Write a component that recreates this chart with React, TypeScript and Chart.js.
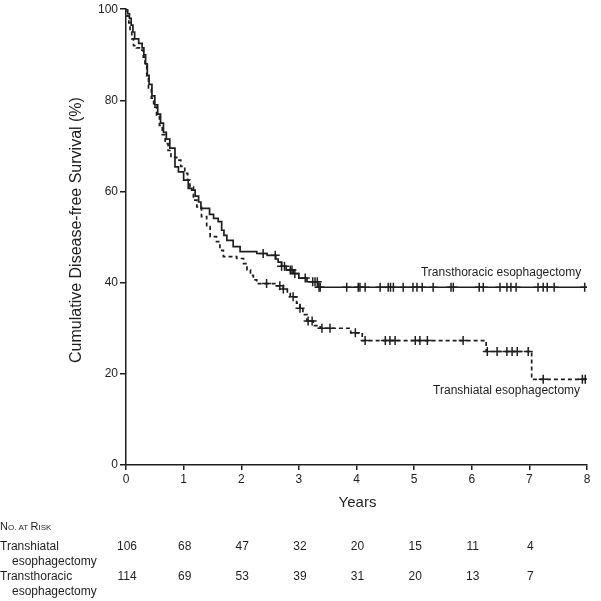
import React, { useEffect, useRef } from "react";
import { Chart, registerables } from "chart.js";

Chart.register(...registerables);

// ---- Data ----
const yearTicks = [0, 1, 2, 3, 4, 5, 6, 7, 8];
const riskYears = [0, 1, 2, 3, 4, 5, 6, 7];
const riskTranshiatal = [106, 68, 47, 32, 20, 15, 11, 4];
const riskTransthoracic = [114, 69, 53, 39, 31, 20, 13, 7];

// Transthoracic esophagectomy (solid) – step times (years) and survival (%)
const thorTimes = [
  0, 0.03, 0.06, 0.09, 0.12, 0.15, 0.22, 0.28, 0.31, 0.34, 0.37, 0.4, 0.45, 0.5,
  0.55, 0.6, 0.65, 0.7, 0.76, 0.85, 0.91, 1.0, 1.08, 1.14, 1.2, 1.26, 1.3, 1.45,
  1.52, 1.6, 1.66, 1.7, 1.75, 1.86, 1.98, 2.27, 2.45, 2.6, 2.64, 2.7, 2.78, 2.9,
  3.0, 3.14, 3.33, 8.0,
];
const thorSurv = [
  100, 99, 98, 96.5, 95, 93.5, 92.5, 91.5, 90, 88, 85.5, 83.5, 81, 79, 77, 75,
  73, 71.5, 69.5, 65.4, 64.3, 62.5, 60.7, 60.3, 59, 57.7, 56.3, 55, 54.1, 53.4,
  51.5, 50.4, 49.3, 47.9, 46.8, 46.4, 46.0, 45.2, 44.5, 43.6, 42.8, 42.0, 41.0,
  40.2, 39.0, 39.0,
];
const thorCensor = [
  2.38, 2.59, 2.7, 2.75, 2.85, 2.88, 2.93, 3.11, 3.24, 3.28, 3.32, 3.35, 3.37,
  3.83, 4.03, 4.06, 4.15, 4.41, 4.55, 4.59, 4.64, 4.81, 4.98, 5.05, 5.14, 5.33,
  5.64, 5.68, 6.13, 6.2, 6.49, 6.61, 6.68, 6.77, 7.15, 7.24, 7.31, 7.43, 7.96,
];

// Transhiatal esophagectomy (dashed)
const hiatTimes = [
  0, 0.02, 0.05, 0.07, 0.1, 0.13, 0.18, 0.25, 0.3, 0.33, 0.36, 0.39, 0.44, 0.48,
  0.53, 0.58, 0.63, 0.68, 0.73, 0.78, 0.88, 0.95, 1.02, 1.07, 1.11, 1.17, 1.23,
  1.31, 1.4, 1.46, 1.57, 1.63, 1.69, 1.92, 2.04, 2.1, 2.16, 2.21, 2.27, 2.62,
  2.73, 2.8, 2.85, 2.96, 3.02, 3.07, 3.14, 3.25, 3.37, 3.9, 4.1, 6.25, 7.04, 8.0,
];
const hiatSurv = [
  100, 98.5, 97, 95, 93.5, 92, 91.5, 91, 89.5, 87.5, 85, 82.5, 80.5, 78.5, 76.5,
  74.5, 72.5, 70.5, 69, 67.5, 66.9, 65.5, 64, 62.5, 61, 58.1, 56.6, 54.5, 52.3,
  50.1, 49.0, 47.1, 45.7, 45.3, 44.2, 42.8, 41.6, 40.6, 39.8, 39.3, 38.6, 37.6,
  36.9, 35.5, 34.4, 33.0, 31.6, 30.6, 30.0, 29.0, 27.3, 24.9, 18.8, 18.8,
];
const hiatCensor = [
  2.44, 2.67, 2.73, 2.9, 3.02, 3.16, 3.23, 3.4, 3.54, 3.98, 4.15, 4.5, 4.58,
  4.67, 5.02, 5.1, 5.23, 5.85, 6.27, 6.44, 6.61, 6.7, 6.79, 6.98, 7.24, 7.92,
  7.97,
];

const FONT = "'Liberation Sans', Arial, Helvetica, sans-serif";
const INK = "#1e1e1e";

function survAt(times: number[], surv: number[], t: number): number {
  let v = surv[0];
  for (let i = 0; i < times.length; i++) {
    if (times[i] <= t) v = surv[i];
  }
  return v;
}

const textPlugin = {
  id: "kmText",
  afterDraw(chart: any) {
    const ctx = chart.ctx as CanvasRenderingContext2D;
    const xs = chart.scales.x;
    const ys = chart.scales.y;
    ctx.save();
    ctx.fillStyle = INK;

    // Axis titles
    ctx.font = `15px ${FONT}`;
    ctx.textAlign = "center";
    ctx.textBaseline = "middle";
    ctx.fillText("Years", xs.getPixelForValue(4) + 1, 503);

    ctx.save();
    ctx.translate(77, 230);
    ctx.rotate(-Math.PI / 2);
    ctx.font = `16px ${FONT}`;
    ctx.fillText("Cumulative Disease-free Survival (%)", 0, 0);
    ctx.restore();

    // Curve labels
    ctx.font = `12px ${FONT}`;
    ctx.textAlign = "right";
    ctx.fillText("Transthoracic esophagectomy", xs.getPixelForValue(7.9), ys.getPixelForValue(42.3));
    ctx.fillText("Transhiatal esophagectomy", xs.getPixelForValue(7.88), ys.getPixelForValue(16.4));

    // No. at risk header (small caps)
    ctx.textAlign = "left";
    let x = 0;
    const yh = 527;
    const parts: [string, number][] = [
      ["N", 11],
      ["O. AT ", 8],
      ["R", 11],
      ["ISK", 8],
    ];
    for (const [s, sz] of parts) {
      ctx.font = `${sz}px ${FONT}`;
      ctx.fillText(s, x, yh + (sz < 10 ? 0.5 : 0));
      x += ctx.measureText(s).width;
    }

    // Row labels
    ctx.font = `12px ${FONT}`;
    ctx.fillText("Transhiatal", 0, 547);
    ctx.fillText("esophagectomy", 12, 562);
    ctx.fillText("Transthoracic", 0, 577);
    ctx.fillText("esophagectomy", 12, 592);

    // Numbers at risk
    ctx.textAlign = "center";
    riskYears.forEach((yr, i) => {
      const px = xs.getPixelForValue(yr) + 1;
      ctx.fillText(String(riskTranshiatal[i]), px, 547);
      ctx.fillText(String(riskTransthoracic[i]), px, 577);
    });
    ctx.restore();
  },
};

export default function App() {
  const ref = useRef<HTMLCanvasElement | null>(null);

  useEffect(() => {
    if (!ref.current) return;
    const toPts = (t: number[], s: number[]) => t.map((v, i) => ({ x: v, y: s[i] }));
    const censorPts = (c: number[], t: number[], s: number[]) =>
      c.map((v) => ({ x: v, y: survAt(t, s, v) }));

    const chart = new Chart(ref.current, {
      type: "line",
      data: {
        datasets: [
          {
            label: "Transthoracic esophagectomy",
            data: toPts(thorTimes, thorSurv),
            stepped: true,
            borderColor: INK,
            borderWidth: 1.7,
            pointRadius: 0,
            fill: false,
          },
          {
            label: "Transhiatal esophagectomy",
            data: toPts(hiatTimes, hiatSurv),
            stepped: true,
            borderColor: INK,
            borderWidth: 1.7,
            borderDash: [4, 3],
            pointRadius: 0,
            fill: false,
          },
          {
            label: "thor censor",
            data: censorPts(thorCensor, thorTimes, thorSurv),
            showLine: false,
            pointStyle: "cross",
            pointRadius: 4.5,
            pointBorderWidth: 1.5,
            pointBorderColor: INK,
            borderColor: INK,
          },
          {
            label: "hiat censor",
            data: censorPts(hiatCensor, hiatTimes, hiatSurv),
            showLine: false,
            pointStyle: "cross",
            pointRadius: 4.5,
            pointBorderWidth: 1.5,
            pointBorderColor: INK,
            borderColor: INK,
          },
        ],
      },
      options: {
        animation: false,
        responsive: false,
        maintainAspectRatio: false,
        layout: { padding: { top: 9, right: 14, left: 0, bottom: 0 } },
        plugins: {
          legend: { display: false },
          tooltip: { enabled: false },
        },
        scales: {
          x: {
            type: "linear",
            min: 0,
            max: 8,
            afterBuildTicks: (s: any) => {
              s.ticks = yearTicks.map((v) => ({ value: v }));
            },
            afterFit: (s: any) => {
              s.height = 136;
            },
            ticks: {
              color: INK,
              font: { size: 12, family: FONT },
              padding: 2,
              maxRotation: 0,
            },
            grid: {
              display: true,
              drawOnChartArea: false,
              drawTicks: true,
              tickLength: 5,
              color: INK,
              lineWidth: 1.5,
            },
            border: { display: true, color: INK, width: 1.5 },
          },
          y: {
            min: 0,
            max: 100,
            afterFit: (s: any) => {
              s.width = 126;
            },
            ticks: {
              stepSize: 20,
              color: INK,
              font: { size: 12, family: FONT },
              padding: 2,
            },
            grid: {
              display: true,
              drawOnChartArea: false,
              drawTicks: true,
              tickLength: 6,
              color: INK,
              lineWidth: 1.5,
            },
            border: { display: true, color: INK, width: 1.5 },
          },
        },
      },
      plugins: [textPlugin],
    });
    return () => chart.destroy();
  }, []);

  return (
    <div style={{ position: "absolute", left: 0, top: 0, width: 601, height: 601, background: "#fff" }}>
      <canvas ref={ref} width={601} height={601} style={{ display: "block" }} />
    </div>
  );
}
